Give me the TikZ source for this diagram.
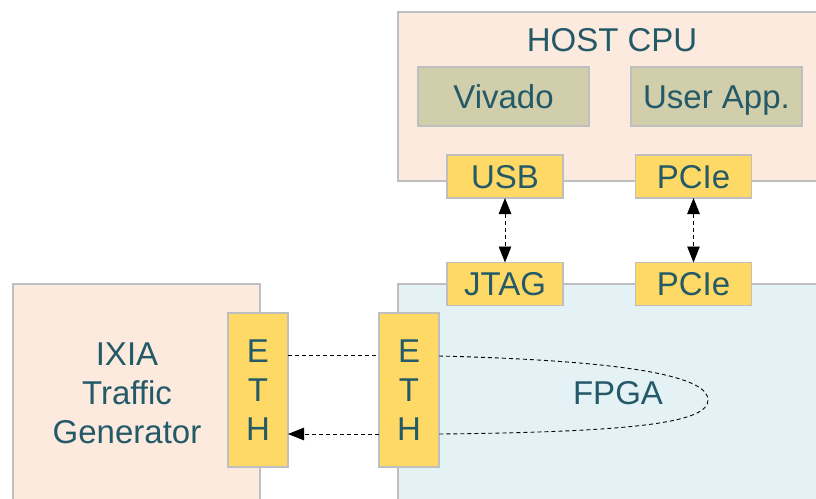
\documentclass[tikz,border=0pt]{standalone}
\usepackage{fontspec}
\setmainfont{Liberation Sans}
\usetikzlibrary{arrows.meta}
\definecolor{peach}{HTML}{FCEADF}
\definecolor{olivebox}{HTML}{D1CEAB}
\definecolor{portyellow}{HTML}{FFD966}
\definecolor{fpgablue}{HTML}{E4F2F6}
\definecolor{edgegray}{HTML}{BFBFBF}
\definecolor{labeltext}{HTML}{245A68}
\tikzset{
  block/.style={draw=edgegray, line width=1.6pt, inner sep=0pt, outer sep=0pt},
  hostbox/.style={block, fill=peach},
  label/.style={text=labeltext, font=\fontsize{33}{39}\selectfont, inner sep=0pt},
  oneline/.style={label, text height=23.6pt, text depth=0pt},
  appbox/.style={block, fill=olivebox, oneline, minimum width=171pt, minimum height=59pt},
  portbox/.style={block, fill=portyellow, oneline, minimum width=116pt, minimum height=43pt},
  ethbox/.style={block, fill=portyellow, label, minimum width=60pt, minimum height=154pt, align=center},
  link/.style={line width=0.9pt, dash pattern=on 4pt off 3pt},
  head/.tip={Triangle[length=16pt,width=12.5pt]},
}
\begin{document}
\begin{tikzpicture}[x=1pt,y=-1pt]
\useasboundingbox (0,0) rectangle (816,498);
\clip (0,0) rectangle (816,498);
\fill[white] (0,0) rectangle (816,498);

% host computer
\node[hostbox, minimum width=432pt, minimum height=169pt] (host) at (614,96.5) {};
\node[oneline] (hostlbl) at (612,40) {HOST CPU};
\node[appbox] (vivado) at (503.5,96.5) {Vivado};
\node[appbox] (userapp) at (716.5,96.5) {User App.};
\node[portbox] (usb) at (505,176.5) {USB};
\node[portbox] (pcieh) at (693.5,176.5) {PCIe};

% FPGA board
\node[block, fill=fpgablue, minimum width=432pt, minimum height=226pt] (fpga) at (614,397) {};
\node[portbox] (jtag) at (505,284) {JTAG};
\node[portbox] (pcief) at (693.5,284) {PCIe};
\node[oneline] (fpgalbl) at (618,393) {FPGA};

% traffic generator
\node[hostbox, minimum width=247pt, minimum height=226pt] (ixia) at (136.5,397) {};
\node[label, align=center] (ixialbl) at (127,393) {IXIA\\Traffic\\Generator};

% ethernet ports
\node[ethbox] (ethg) at (258,390) {E\\T\\H};
\node[ethbox] (ethf) at (409,390) {E\\T\\H};

% host <-> FPGA links
\draw[link, head-head] (usb.south) -- (jtag.north);
\draw[link, head-head] (pcieh.south) -- (pcief.north);

% ethernet loopback through the FPGA
\coordinate (txg) at (ethg.east |- 0,355);
\coordinate (txf) at (ethf.west |- 0,355);
\coordinate (loopin) at (ethf.east |- 0,356);
\coordinate (loopout) at (ethf.east |- 0,434);
\coordinate (rxf) at (ethf.west |- 0,434);
\coordinate (rxg) at (ethg.east |- 0,434);
\draw[link] (txg) -- (txf);
\draw[link] (loopin) .. controls (640,361) and (708,378) .. (708,400)
                     .. controls (708,422) and (640,432) .. (loopout);
\draw[link, -head] (rxf) -- (rxg);
\end{tikzpicture}
\end{document}
